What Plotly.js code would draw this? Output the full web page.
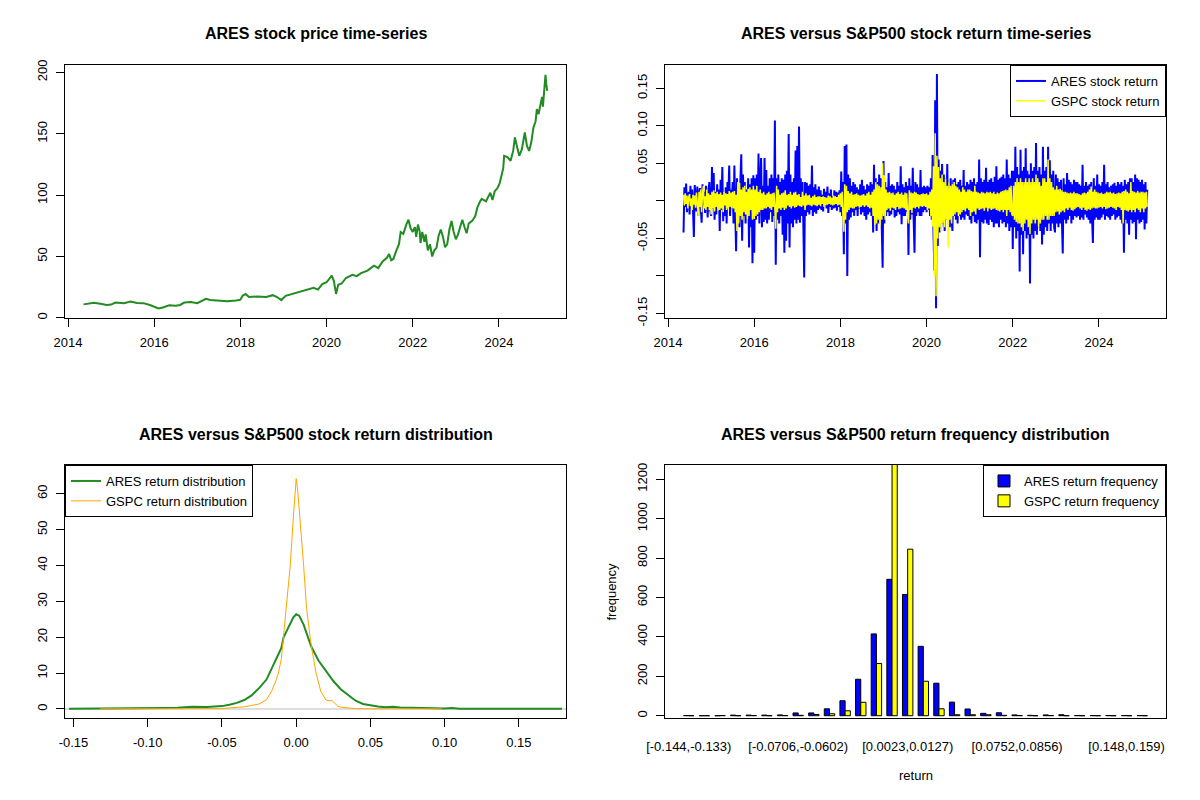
<!DOCTYPE html>
<html>
<head>
<meta charset="utf-8">
<script src="https://cdn.plot.ly/plotly-3.0.1.min.js"></script>
<style>html,body{margin:0;padding:0;background:#fff;}#chart{width:1200px;height:800px;}</style>
</head>
<body>
<div id="chart"></div>
<script>
// ---------- Panel 1: ARES price ----------
const priceYear = [2014.36,2014.5,2014.6,2014.75,2014.9,2015.0,2015.1,2015.3,2015.45,2015.6,2015.75,2015.9,2016.0,2016.1,2016.2,2016.35,2016.5,2016.6,2016.7,2016.85,2017.0,2017.1,2017.2,2017.3,2017.5,2017.7,2017.9,2018.0,2018.05,2018.12,2018.2,2018.4,2018.6,2018.75,2018.85,2018.95,2019.05,2019.2,2019.4,2019.55,2019.7,2019.8,2019.9,2020.0,2020.12,2020.17,2020.2,2020.22,2020.27,2020.35,2020.45,2020.6,2020.7,2020.8,2020.95,2021.1,2021.2,2021.3,2021.4,2021.45,2021.5,2021.55,2021.62,2021.68,2021.72,2021.78,2021.85,2021.9,2021.95,2022.0,2022.05,2022.08,2022.12,2022.16,2022.18,2022.22,2022.27,2022.3,2022.35,2022.4,2022.45,2022.5,2022.55,2022.6,2022.65,2022.7,2022.75,2022.8,2022.85,2022.9,2022.95,2023.0,2023.05,2023.1,2023.15,2023.2,2023.25,2023.3,2023.38,2023.45,2023.5,2023.55,2023.6,2023.7,2023.75,2023.8,2023.85,2023.9,2023.97,2024.02,2024.06,2024.1,2024.12,2024.2,2024.27,2024.33,2024.37,2024.42,2024.47,2024.53,2024.6,2024.65,2024.7,2024.75,2024.8,2024.85,2024.88,2024.92,2024.97,2025.0,2025.02,2025.04,2025.08,2025.1,2025.12];
const priceValue = [11.0,11.8,12.3,11.5,10.5,10.8,12.5,12.0,13.3,12.2,12.0,10.5,9.3,7.7,8.5,10.2,9.8,10.5,12.5,13.0,12.0,13.5,15.5,14.5,13.8,13.5,14.2,14.8,18.0,19.5,17.0,17.5,17.0,18.5,17.0,14.5,18.0,19.5,21.5,23.5,24.5,23.0,27.5,29.0,34.5,30.0,24.0,19.5,27.0,28.0,32.5,35.0,34.0,36.5,38.5,42.5,40.5,46.0,49.0,52.0,47.0,48.0,55.0,60.0,70.0,68.5,76.0,80.0,73.0,70.0,74.0,66.0,76.0,70.5,61.0,70.0,62.0,68.0,55.0,60.0,50.0,55.0,57.0,67.0,72.0,66.0,57.5,60.0,72.0,79.0,70.0,64.0,68.0,75.0,80.0,74.0,69.0,77.0,79.0,83.0,90.0,94.0,97.0,95.0,98.5,102.0,96.0,103.0,106.0,110.0,116.0,122.0,132.0,131.0,128.0,136.0,147.0,138.0,132.0,137.0,151.0,140.0,136.0,143.0,155.0,160.0,170.0,166.0,177.0,180.0,172.0,182.0,198.0,190.0,185.0];

// ---------- Panel 2: returns, sampled every 0.02 year from 2014.36 ----------
const retStartYear = 2014.36;
const retStepYear = 0.02;
const aresReturn = [
 -0.042,0.018,-0.008,0.023,-0.015,0.006,0.012,-0.018,0.02,-0.004,0.015,-0.012,-0.048,0.021,0.005,-0.014,0.019,-0.02,0.008,0.017,-0.01,-0.029,0.022,-0.006,0.012,-0.016,0.02,0.003,-0.022,0.014,0.025,-0.012,
 -0.02,0.045,-0.01,0.037,-0.025,0.012,-0.018,0.022,-0.006,0.015,-0.04,0.028,-0.012,0.045,-0.027,0.01,-0.02,0.018,-0.03,0.025,0.008,0.047,-0.02,0.015,-0.01,
 0.025,-0.03,0.047,-0.015,-0.067,0.03,-0.02,0.018,-0.035,0.028,0.062,-0.053,0.035,-0.02,0.025,-0.03,0.015,-0.025,0.03,-0.062,0.022,-0.035,0.03,-0.083,0.034,
 -0.069,0.03,-0.025,0.035,-0.02,0.063,-0.03,0.025,0.057,-0.035,0.02,-0.028,0.057,-0.025,0.041,-0.03,0.02,-0.025,0.03,-0.015,0.035,-0.028,0.03,-0.02,0.107,
 -0.085,0.03,-0.025,0.035,-0.03,0.025,-0.02,0.03,-0.045,0.028,-0.069,0.035,-0.053,0.04,-0.03,0.089,-0.062,0.035,-0.03,0.025,-0.035,0.03,-0.025,0.067,-0.03,
 0.073,-0.025,0.099,-0.029,0.03,-0.02,0.025,-0.03,-0.102,0.025,-0.02,0.024,-0.015,0.02,-0.018,0.022,-0.012,0.047,-0.02,0.018,-0.015,0.022,-0.017,0.015,-0.012,
 0.019,-0.01,0.014,-0.012,0.008,-0.014,0.016,-0.006,0.012,-0.01,0.019,-0.016,0.01,-0.008,0.015,-0.012,0.006,-0.01,0.014,-0.009,0.012,-0.013,0.011,-0.008,0.014,
 -0.015,0.039,-0.02,0.025,-0.071,0.073,-0.03,0.075,-0.1,0.035,-0.025,0.03,-0.022,0.02,-0.015,0.025,-0.02,0.022,-0.012,0.018,-0.02,0.015,-0.01,0.022,-0.018,
 0.028,-0.015,0.02,-0.02,0.015,-0.025,0.022,-0.018,0.02,-0.015,0.025,-0.02,0.022,-0.042,0.048,-0.02,0.03,-0.04,0.025,-0.03,0.035,-0.025,0.03,-0.035,-0.089,
 0.053,-0.03,0.025,-0.02,0.018,-0.015,0.037,-0.02,0.02,-0.018,0.022,-0.012,0.02,-0.022,0.015,-0.02,0.025,-0.015,0.02,-0.018,0.046,-0.031,0.022,-0.02,0.018,
 -0.02,0.025,-0.015,0.02,-0.072,0.03,-0.025,0.02,-0.018,0.044,-0.025,-0.069,0.025,-0.02,0.022,-0.015,0.018,-0.02,0.041,-0.02,0.018,-0.015,0.02,-0.012,0.018,
 -0.015,0.02,-0.012,0.018,-0.02,0.03,-0.025,0.061,-0.04,-0.093,0.134,-0.143,0.169,-0.06,0.055,-0.042,0.04,-0.035,0.049,-0.03,0.035,-0.04,0.03,-0.025,0.049,
 -0.03,0.025,-0.035,0.03,-0.025,-0.04,0.028,-0.02,0.03,-0.025,0.022,-0.03,0.025,-0.02,0.028,-0.025,0.02,-0.022,0.041,-0.025,0.02,-0.018,0.025,-0.02,0.022,
 -0.025,0.028,-0.03,0.025,-0.02,0.03,-0.028,0.022,-0.03,0.025,-0.025,0.055,-0.075,0.03,-0.028,0.025,-0.03,0.028,-0.025,0.044,-0.03,0.025,-0.032,0.028,-0.025,
 0.03,-0.028,0.025,-0.035,0.032,-0.03,0.046,-0.03,0.028,-0.035,0.03,-0.025,0.032,-0.03,0.035,-0.028,0.03,-0.035,0.055,-0.03,0.035,-0.04,0.03,-0.035,0.04,
 -0.064,0.04,-0.035,0.072,-0.05,0.045,-0.04,0.035,-0.094,0.068,-0.045,0.04,-0.071,0.045,-0.04,0.07,-0.05,0.04,-0.045,0.035,-0.11,0.05,-0.045,0.04,-0.05,
 0.045,-0.04,0.077,-0.045,0.04,-0.035,0.045,-0.04,0.035,-0.058,0.072,-0.045,0.04,-0.035,0.045,-0.04,0.072,-0.03,0.054,-0.04,0.035,-0.03,0.04,-0.035,-0.042,
 0.035,-0.03,0.03,-0.035,0.025,-0.03,0.028,-0.025,-0.07,0.03,-0.025,0.022,-0.03,0.037,-0.025,0.028,-0.02,0.025,-0.03,0.022,-0.025,0.028,-0.02,0.025,-0.022,
 0.025,-0.02,0.022,-0.025,0.02,-0.022,0.048,-0.025,0.02,-0.018,0.025,-0.022,0.02,-0.025,0.022,-0.03,0.025,-0.022,-0.056,0.03,-0.025,0.02,-0.022,0.035,-0.025,
 0.022,-0.025,0.02,-0.022,0.025,-0.018,0.048,-0.025,0.022,-0.02,0.025,-0.022,0.018,-0.025,0.02,-0.02,0.022,-0.018,0.024,-0.025,0.02,-0.022,0.025,-0.02,0.022,
 -0.025,0.025,-0.03,0.02,-0.069,0.028,-0.025,0.022,-0.03,0.025,-0.045,0.03,-0.025,0.03,-0.03,0.025,-0.028,0.035,-0.051,0.03,-0.025,0.028,-0.03,0.025,-0.028,
 0.028,-0.025,0.022,-0.038,0.025,-0.03,0.015
];
const gspcReturn = [
 0.008,-0.006,0.01,-0.004,0.007,-0.01,0.005,0.009,-0.007,0.003,-0.012,0.008,-0.005,0.007,-0.009,0.011,-0.004,-0.02,0.012,-0.008,0.015,-0.015,0.01,0.02,-0.01,0.006,-0.012,0.015,-0.008,0.01,-0.012,0.008,
 -0.018,0.012,-0.01,0.014,-0.014,0.01,-0.008,0.012,-0.013,0.009,-0.012,0.011,-0.01,0.008,-0.015,0.012,-0.006,0.01,-0.012,0.009,-0.01,0.013,-0.008,0.011,-0.01,
 0.012,-0.01,0.013,-0.015,0.008,-0.04,0.025,-0.03,0.024,-0.02,0.015,-0.025,0.018,-0.015,0.02,-0.018,0.012,-0.025,0.016,-0.02,0.018,-0.012,0.015,-0.025,0.02,
 -0.024,0.015,-0.02,0.02,-0.018,0.012,-0.015,0.015,-0.012,0.01,-0.012,0.012,-0.01,0.008,-0.01,0.01,-0.008,0.012,-0.01,0.009,-0.012,0.01,-0.008,0.011,-0.01,
 -0.037,0.02,-0.015,0.015,-0.01,0.008,-0.012,0.01,-0.009,0.011,-0.012,0.014,-0.01,0.008,-0.006,0.009,-0.008,0.012,-0.01,0.008,-0.007,0.011,-0.009,0.012,-0.008,
 0.008,-0.006,0.009,-0.007,0.005,-0.008,0.012,-0.006,0.007,-0.012,0.01,-0.006,0.007,-0.005,0.008,-0.006,0.004,-0.007,0.006,-0.005,0.008,-0.006,0.005,-0.007,0.006,
 -0.005,0.006,-0.007,0.005,-0.004,0.006,-0.008,0.005,-0.006,0.004,-0.005,0.007,-0.004,0.006,-0.005,0.004,-0.006,0.007,-0.005,0.006,-0.004,0.005,-0.006,0.008,-0.005,
 0.01,-0.008,0.012,-0.022,-0.041,0.022,-0.025,0.02,-0.015,0.013,-0.012,0.01,-0.009,0.012,-0.01,0.008,-0.01,0.009,-0.008,0.01,-0.007,0.008,-0.009,0.007,-0.008,
 0.008,-0.006,0.009,-0.008,0.007,-0.006,0.01,-0.008,0.012,-0.01,0.008,-0.009,0.012,-0.02,0.015,-0.032,0.025,-0.03,0.022,-0.025,0.02,-0.033,0.018,-0.025,0.05,
 -0.02,0.034,-0.025,0.015,-0.012,0.011,-0.01,0.012,-0.013,0.01,-0.009,0.011,-0.01,0.008,-0.012,0.01,-0.008,0.012,-0.011,0.009,-0.01,0.011,-0.009,0.008,-0.01,
 0.011,-0.012,0.01,-0.02,-0.03,0.014,-0.012,0.011,-0.016,0.01,-0.009,0.012,-0.01,0.011,-0.008,0.009,-0.01,0.008,-0.007,0.009,-0.008,0.01,-0.007,0.009,-0.008,
 0.01,-0.012,0.008,-0.01,0.012,-0.02,0.015,-0.034,0.046,-0.1,0.09,-0.127,0.06,-0.05,0.045,-0.035,0.03,-0.04,0.035,-0.03,0.025,-0.035,0.03,-0.025,0.02,
 -0.062,0.025,-0.025,0.02,-0.03,0.022,-0.02,0.025,-0.018,0.02,-0.015,0.018,-0.02,0.015,-0.018,0.012,-0.015,0.018,-0.012,0.015,-0.014,0.012,-0.01,0.015,-0.012,
 0.015,-0.02,0.013,-0.015,0.012,-0.014,0.02,-0.018,0.012,-0.01,0.011,-0.012,0.01,-0.011,0.012,-0.01,0.011,-0.013,0.01,-0.009,0.012,-0.014,0.011,-0.01,0.012,
 -0.012,0.01,-0.011,0.012,-0.01,0.009,-0.012,0.011,-0.013,0.01,-0.014,0.012,-0.012,0.013,-0.015,0.014,-0.012,0.015,-0.02,0.014,-0.012,0.018,-0.015,0.02,-0.018,
 -0.02,0.02,-0.025,0.025,-0.028,0.03,-0.03,0.025,-0.03,0.03,-0.035,0.025,-0.04,0.025,-0.03,0.03,-0.025,0.025,-0.035,0.03,-0.044,0.025,-0.03,0.03,-0.025,
 0.025,-0.03,0.035,-0.025,0.03,-0.035,0.025,-0.03,0.02,-0.025,0.03,-0.025,0.03,-0.02,0.025,-0.025,0.055,-0.025,0.03,-0.02,0.025,-0.02,0.018,-0.02,0.015,
 -0.015,0.02,-0.014,0.015,-0.018,0.016,-0.015,0.014,-0.013,0.012,-0.015,0.012,-0.01,0.011,-0.012,0.01,-0.009,0.011,-0.012,0.01,-0.013,0.012,-0.011,0.01,-0.009,
 0.01,-0.008,0.009,-0.01,0.008,-0.012,0.01,-0.009,0.011,-0.012,0.01,-0.013,0.012,-0.011,0.015,-0.012,0.019,-0.01,0.012,-0.009,0.015,-0.01,0.012,-0.01,0.011,
 -0.009,0.01,-0.008,0.011,-0.01,0.009,-0.008,0.01,-0.011,0.012,-0.01,0.011,-0.009,0.012,-0.008,0.01,-0.009,0.011,-0.01,0.009,-0.012,0.01,-0.008,0.011,-0.009,
 0.01,-0.012,0.012,-0.03,0.013,-0.012,0.015,-0.013,0.012,-0.014,0.01,-0.012,0.025,-0.015,0.013,-0.012,0.012,-0.015,0.011,-0.01,0.013,-0.012,0.011,-0.015,0.012,
 -0.01,0.012,-0.015,0.011,-0.01,0.012,-0.008
];

// ---------- Panel 3: kernel densities ----------
const aresDensX = [-0.153,-0.13,-0.11,-0.10,-0.09,-0.08,-0.07,-0.06,-0.05,-0.045,-0.04,-0.035,-0.03,-0.027,-0.025,-0.02,-0.018,-0.015,-0.01,-0.0085,-0.005,-0.002,0,0.002,0.005,0.01,0.015,0.02,0.025,0.03,0.035,0.04,0.045,0.05,0.055,0.06,0.065,0.07,0.08,0.09,0.10,0.105,0.11,0.13,0.15,0.179];
const aresDensY = [0.1,0.1,0.3,0.15,0.3,0.35,0.6,0.55,0.8,1.2,1.7,2.5,3.8,5.0,5.8,8.2,10.0,12.3,17.0,20.0,23.0,25.5,26.4,26.0,23.5,17.5,13.5,10.5,7.8,5.5,4.0,2.3,1.4,1.0,0.7,0.5,0.6,0.4,0.3,0.2,0.15,0.3,0.1,0.08,0.05,0.05];
const gspcDensX = [-0.132,-0.1,-0.08,-0.06,-0.05,-0.045,-0.04,-0.035,-0.03,-0.025,-0.02,-0.0165,-0.014,-0.012,-0.01,-0.0085,-0.006,-0.004,-0.002,-0.001,0,0.001,0.002,0.004,0.005,0.007,0.01,0.0134,0.0165,0.02,0.022,0.024,0.026,0.028,0.03,0.035,0.04,0.05,0.06,0.08,0.098];
const gspcDensY = [0.05,0.05,0.05,0.1,0.1,0.3,0.4,0.6,1.0,1.4,2.6,5,7.5,10,14,20,30,40,53,60,64.2,61,56,44,40,28,18,10,5,2.5,2.3,2.4,1.6,0.8,0.5,0.2,0.1,0.05,0.05,0.05,0.05];

// ---------- Panel 4: return frequency ----------
const binLabels = ["[-0.144,-0.133)","[-0.133,-0.123)","[-0.123,-0.112)","[-0.112,-0.102)","[-0.102,-0.0914)","[-0.0914,-0.081)","[-0.081,-0.0706)","[-0.0706,-0.0602)","[-0.0602,-0.0498)","[-0.0498,-0.0394)","[-0.0394,-0.029)","[-0.029,-0.0185)","[-0.0185,-0.0081)","[-0.0081,0.0023)","[0.0023,0.0127)","[0.0127,0.0231)","[0.0231,0.0336)","[0.0336,0.044)","[0.044,0.0544)","[0.0544,0.0648)","[0.0648,0.0752)","[0.0752,0.0856)","[0.0856,0.096)","[0.096,0.106)","[0.106,0.117)","[0.117,0.127)","[0.127,0.138)","[0.138,0.148)","[0.148,0.159)","[0.159,0.169)"];
const aresFreq = [1,0,0,3,3,3,4,14,14,35,76,185,415,692,615,352,165,69,34,12,15,4,2,4,5,1,1,1,1,1];
const gspcFreq = [0,0,1,0,1,0,1,2,6,10,25,68,265,1275,845,175,35,5,5,5,2,1,0,1,0,0,0,0,0,0];
const shownBinIdx = [0,7,14,21,28];
const yearTicks = [2014,2016,2018,2020,2022,2024];

// ---------- build ----------
const retYear = aresReturn.map((_, i) => +(retStartYear + i * retStepYear).toFixed(4));
const retYearG = gspcReturn.map((_, i) => +(retStartYear + i * retStepYear).toFixed(4));

const FONT = "Liberation Sans, Arial, Helvetica, sans-serif";
const W = 1200, H = 800;
const L = 65, R1 = 566, L2 = 665, R2 = 1166;
const T1 = 65, B1 = 318, T2 = 465, B2 = 718;
const dx = (a, b) => [a / W, b / W];
const dy = (t, b) => [1 - b / H, 1 - t / H];

function ax(extra) {
  return Object.assign({
    showline: true, linecolor: 'black', linewidth: 1, mirror: true,
    showgrid: false, zeroline: false,
    ticks: 'outside', ticklen: 8, tickwidth: 1, tickcolor: 'black',
    ticklabelstandoff: 4,
    tickfont: {family: FONT, size: 13, color: 'black'}
  }, extra);
}

const traces = [
  {type: 'scatter', mode: 'lines', x: priceYear, y: priceValue, xaxis: 'x', yaxis: 'y',
   line: {color: '#228B22', width: 2}, showlegend: false, name: 'ARES price'},
  {type: 'scatter', mode: 'lines', x: retYear, y: aresReturn, xaxis: 'x2', yaxis: 'y2',
   line: {color: '#0000FF', width: 2, simplify: false}, name: 'ARES stock return', legend: 'legend'},
  {type: 'scatter', mode: 'lines', x: retYearG, y: gspcReturn, xaxis: 'x2', yaxis: 'y2',
   line: {color: '#FFFF00', width: 1.5, simplify: false}, name: 'GSPC stock return', legend: 'legend'},
  {type: 'scatter', mode: 'lines', x: aresDensX, y: aresDensY, xaxis: 'x3', yaxis: 'y3',
   line: {color: '#228B22', width: 2}, name: 'ARES return distribution', legend: 'legend2'},
  {type: 'scatter', mode: 'lines', x: gspcDensX, y: gspcDensY, xaxis: 'x3', yaxis: 'y3',
   line: {color: '#FFA500', width: 1}, name: 'GSPC return distribution', legend: 'legend2'},
  {type: 'bar', x: binLabels, y: aresFreq, xaxis: 'x4', yaxis: 'y4',
   marker: {color: '#0000FF', line: {color: 'black', width: 1}}, name: 'ARES return frequency', legend: 'legend3'},
  {type: 'bar', x: binLabels, y: gspcFreq, xaxis: 'x4', yaxis: 'y4',
   marker: {color: '#FFFF00', line: {color: 'black', width: 1}}, name: 'GSPC return frequency', legend: 'legend3'}
];

const legendBase = {
  bgcolor: 'white', bordercolor: 'black', borderwidth: 1,
  font: {family: FONT, size: 13, color: 'black'}, yanchor: 'top', tracegroupgap: 0
};

const layout = {
  width: W, height: H,
  margin: {l: 0, r: 0, t: 0, b: 0},
  paper_bgcolor: 'white', plot_bgcolor: 'white',
  font: {family: FONT, size: 13, color: 'black'},
  showlegend: true,
  barmode: 'group', bargap: 1/3, bargroupgap: 0,
  xaxis: ax({domain: dx(L, R1), anchor: 'y', range: [2013.93, 2025.556], tickvals: yearTicks}),
  yaxis: ax({domain: dy(T1, B1), anchor: 'x', range: [-0.1, 206], tickvals: [0,50,100,150,200], tickangle: -90}),
  xaxis2: ax({domain: dx(L2, R2), anchor: 'y2', range: [2013.93, 2025.556], tickvals: yearTicks}),
  yaxis2: ax({domain: dy(T1, B1), anchor: 'x2', range: [-0.156, 0.181],
              tickvals: [-0.15,-0.10,-0.05,0,0.05,0.10,0.15],
              ticktext: ['-0.15','','-0.05','','0.05','0.10','0.15'], tickangle: -90}),
  xaxis3: ax({domain: dx(L, R1), anchor: 'y3', range: [-0.1557, 0.1817],
              tickvals: [-0.15,-0.10,-0.05,0,0.05,0.10,0.15],
              ticktext: ['-0.15','-0.10','-0.05','0.00','0.05','0.10','0.15']}),
  yaxis3: ax({domain: dy(T2, B2), anchor: 'x3', range: [-2.51, 68], tickvals: [0,10,20,30,40,50,60], tickangle: -90}),
  xaxis4: ax({domain: dx(L2, R2), anchor: 'y4', type: 'category', range: [-1.52, 30.52],
              ticks: '', ticklabelstandoff: 16, tickvals: shownBinIdx.map(i => binLabels[i]), ticktext: shownBinIdx.map(i => binLabels[i]),
              tickangle: 0}),
  yaxis4: ax({domain: dy(T2, B2), anchor: 'x4', range: [-11.6, 1272], tickvals: [0,200,400,600,800,1000,1200], tickangle: -90}),
  legend: Object.assign({}, legendBase, {x: R2 / W, xanchor: 'right', y: 1 - T1 / H}),
  legend2: Object.assign({}, legendBase, {x: L / W, xanchor: 'left', y: 1 - T2 / H}),
  legend3: Object.assign({}, legendBase, {x: R2 / W, xanchor: 'right', y: 1 - T2 / H}),
  shapes: [
    {type: 'line', xref: 'x3 domain', yref: 'y3', x0: 0, x1: 1, y0: 0, y1: 0,
     line: {color: '#BEBEBE', width: 1}, layer: 'below'}
  ],
  annotations: [
    {text: '<b>ARES stock price time-series</b>', x: (L + R1) / 2 / W, y: 1 - 34 / H},
    {text: '<b>ARES versus S&amp;P500 stock return time-series</b>', x: (L2 + R2) / 2 / W, y: 1 - 34 / H},
    {text: '<b>ARES versus S&amp;P500 stock return distribution</b>', x: (L + R1) / 2 / W, y: 1 - 434 / H},
    {text: '<b>ARES versus S&amp;P500 return frequency distribution</b>', x: (L2 + R2) / 2 / W, y: 1 - 434 / H},
  ].map(a => Object.assign(a, {xref: 'paper', yref: 'paper', xanchor: 'center', yanchor: 'middle',
        showarrow: false, font: {family: FONT, size: 16, color: 'black'}})).concat([
    {text: 'return', x: (L2 + R2) / 2 / W, y: 1 - 775 / H, xref: 'paper', yref: 'paper',
     xanchor: 'center', yanchor: 'middle', showarrow: false, font: {family: FONT, size: 13, color: 'black'}},
    {text: 'frequency', x: 611 / W, y: 1 - (T2 + B2) / 2 / H, xref: 'paper', yref: 'paper', textangle: -90,
     xanchor: 'center', yanchor: 'middle', showarrow: false, font: {family: FONT, size: 13, color: 'black'}}
  ])
};

Plotly.newPlot('chart', traces, layout, {staticPlot: true, displayModeBar: false});
</script>
</body>
</html>
